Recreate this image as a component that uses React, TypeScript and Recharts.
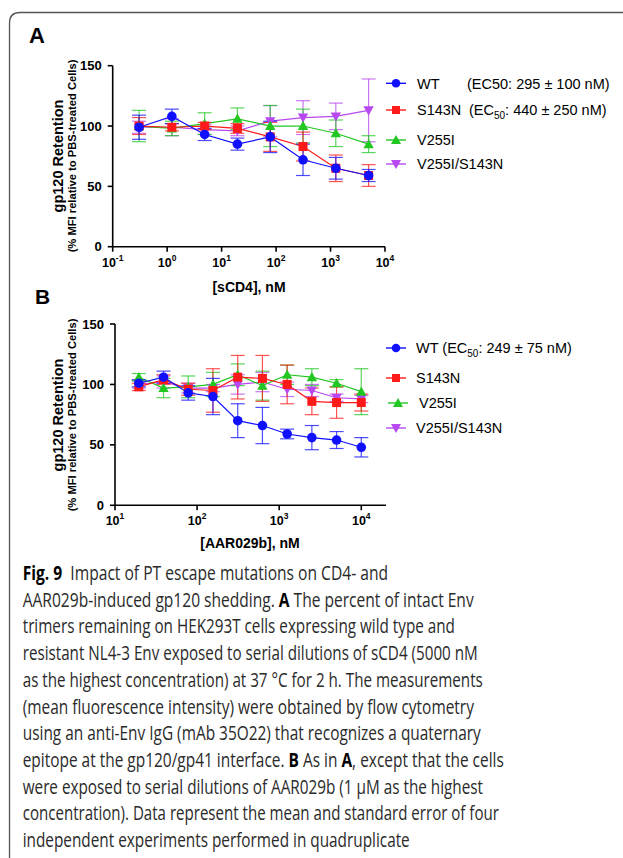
import React, { useLayoutEffect, useRef, useState } from 'react';
import { LineChart, Line, XAxis, YAxis, ErrorBar } from 'recharts';

// ---------- Panel A data (sCD4, nM) ----------
const concA = [0.305, 1.22, 4.88, 19.5, 78.1, 312.5, 1250, 5000];
const wtA = [99, 108, 93, 85, 91, 72, 65, 59];
const wtAErr = [10, 6, 5, 5, 13, 13, 9, 5];
const s143nA = [100, 99, 100, 98, 91, 83, 65, 59];
const s143nAErr = [7, 3, 3, 4, 12, 12, 11, 9];
const v255iA = [100, 98, 102, 106, 100, 100, 94, 85];
const v255iAErr = [13, 6, 9, 9, 17, 14, 11, 7];
const dblA = [99, 99, 97, 96, 104, 107, 108, 113];
const dblAErr = [5, 7, 4, 4, 13, 14, 11, 26];
const ticksA = [0.1, 1, 10, 100, 1000, 10000];

// ---------- Panel B data (AAR029b, nM) ----------
const concB = [19.5, 39, 78, 156, 312.5, 625, 1250, 2500, 5000, 10000];
const wtB = [101, 106, 93, 90, 70, 66, 59, 56, 54, 48];
const wtBErr = [3, 5, 6, 15, 14, 15, 4, 10, 7, 8];
const s143nB = [98, 104, 96, 95, 106, 105, 100, 86, 85, 85];
const s143nBErr = [3, 4, 5, 18, 18, 19, 16, 11, 13, 7];
const v255iB = [106, 97, 98, 100, 108, 99, 108, 106, 101, 94];
const v255iBErr = [3, 8, 9, 10, 9, 12, 8, 7, 3, 19];
const dblB = [100, 102, 97, 97, 100, 102, 96, 95, 89, 88];
const dblBErr = [3, 5, 4, 3, 8, 8, 6, 5, 3, 3];
const ticksB = [10, 100, 1000, 10000];

const yTicks = [0, 50, 100, 150];

const BLUE = '#1010ff';
const RED = '#ff1a1a';
const GREEN = '#22c722';
const PURPLE = '#b848f0';
const FONT = '"Liberation Sans", Arial, Helvetica, sans-serif';
const CAP_FONT = '"Open Sans", "Noto Sans", sans-serif';

const buildRows = (conc: number[], a: number[], ae: number[], b: number[], be: number[], c: number[], ce: number[], d: number[], de: number[]) =>
  conc.map((x, i) => ({ x, wt: a[i], wtE: ae[i], s: b[i], sE: be[i], v: c[i], vE: ce[i], d: d[i], dE: de[i] }));

const rowsA = buildRows(concA, wtA, wtAErr, s143nA, s143nAErr, v255iA, v255iAErr, dblA, dblAErr);
const rowsB = buildRows(concB, wtB, wtBErr, s143nB, s143nBErr, v255iB, v255iBErr, dblB, dblBErr);

const Circle = (p: any) => (p.cx == null ? null : <circle cx={p.cx} cy={p.cy} r={4.8} fill={BLUE} />);
const Square = (p: any) => (p.cx == null ? null : <rect x={p.cx - 4.5} y={p.cy - 4.5} width={9} height={9} fill={RED} />);
const TriUp = (p: any) =>
  p.cx == null ? null : <path d={`M${p.cx},${p.cy - 5.2} L${p.cx + 5.2},${p.cy + 4} L${p.cx - 5.2},${p.cy + 4} Z`} fill={GREEN} />;
const TriDown = (p: any) =>
  p.cx == null ? null : <path d={`M${p.cx},${p.cy + 5.2} L${p.cx + 5.2},${p.cy - 4} L${p.cx - 5.2},${p.cy - 4} Z`} fill={PURPLE} />;

const LogTick = (p: any) => {
  const e = Math.round(Math.log10(p.payload.value));
  return (
    <text x={p.x} y={p.y + 13} textAnchor="middle" fontFamily={FONT} fontWeight="bold" fontSize={12.5} fill="#000">
      <tspan>10</tspan>
      <tspan dy={-6} fontSize={8.5}>{e}</tspan>
    </text>
  );
};

const series = [
  { key: 'd', err: 'dE', color: PURPLE, dot: TriDown },
  { key: 'v', err: 'vE', color: GREEN, dot: TriUp },
  { key: 's', err: 'sE', color: RED, dot: Square },
  { key: 'wt', err: 'wtE', color: BLUE, dot: Circle },
];

const Panel = ({ rows, domain, ticks, margin, yWidth }: any) => (
  <LineChart width={400} height={300} data={rows} margin={margin}>
    <XAxis
      dataKey="x"
      type="number"
      scale="log"
      domain={domain}
      ticks={ticks}
      allowDataOverflow
      height={50}
      tick={<LogTick />}
      tickSize={5}
      axisLine={{ stroke: '#000', strokeWidth: 1.6 }}
      tickLine={{ stroke: '#000', strokeWidth: 1.6 }}
      interval={0}
    />
    <YAxis
      type="number"
      domain={[0, 150]}
      ticks={yTicks}
      width={yWidth}
      tickSize={5}
      tickMargin={6}
      tick={{ fontSize: 13, fontWeight: 'bold', fill: '#000', fontFamily: FONT }}
      axisLine={{ stroke: '#000', strokeWidth: 1.6 }}
      tickLine={{ stroke: '#000', strokeWidth: 1.6 }}
      interval={0}
    />
    {series.map((s) => (
      <Line
        key={s.key}
        dataKey={s.key}
        stroke={s.color}
        strokeWidth={1.2}
        dot={<s.dot />}
        activeDot={false}
        isAnimationActive={false}
      >
        <ErrorBar dataKey={s.err} width={7} stroke={s.color} strokeOpacity={0.75} strokeWidth={1.2} direction="y" />
      </Line>
    ))}
  </LineChart>
);

const captionLines: { parts: { t: string; b?: boolean }[]; w: number }[] = [
  { parts: [{ t: 'Fig. 9', b: true }, { t: '\u00a0 Impact of PT escape mutations on CD4- and' }], w: 365 },
  { parts: [{ t: 'AAR029b-induced gp120 shedding. ' }, { t: 'A', b: true }, { t: ' The percent of intact Env' }], w: 451 },
  { parts: [{ t: 'trimers remaining on HEK293T cells expressing wild type and' }], w: 432 },
  { parts: [{ t: 'resistant NL4-3 Env exposed to serial dilutions of sCD4 (5000 nM' }], w: 455 },
  { parts: [{ t: 'as the highest concentration) at 37 °C for 2 h. The measurements' }], w: 460 },
  { parts: [{ t: '(mean fluorescence intensity) were obtained by flow cytometry' }], w: 451 },
  { parts: [{ t: 'using an anti-Env IgG (mAb 35O22) that recognizes a quaternary' }], w: 458 },
  { parts: [{ t: 'epitope at the gp120/gp41 interface. ' }, { t: 'B', b: true }, { t: ' As in ' }, { t: 'A', b: true }, { t: ', except that the cells' }], w: 481 },
  { parts: [{ t: 'were exposed to serial dilutions of AAR029b (1 μM as the highest' }], w: 460 },
  { parts: [{ t: 'concentration). Data represent the mean and standard error of four' }], w: 476 },
  { parts: [{ t: 'independent experiments performed in quadruplicate' }], w: 387 },
];

const CaptionLine = ({ ln, x, y }: any) => {
  const ref = useRef<SVGTextElement>(null);
  const [sx, setSx] = useState(0.78);
  useLayoutEffect(() => {
    if (ref.current) {
      const natural = ref.current.getComputedTextLength();
      if (natural > 0) setSx(ln.w / natural);
    }
  }, [ln.w]);
  return (
    <g transform={`translate(${x},${y}) scale(${sx},1)`}>
      <text ref={ref} x={0} y={0} fontFamily={CAP_FONT} fontSize={19.5} fill="#2a2a2a">
        {ln.parts.map((p: any, j: number) => (
          <tspan key={j} fontWeight={p.b ? 'bold' : 'normal'} fill={p.b ? '#000' : '#2a2a2a'}>
            {p.t}
          </tspan>
        ))}
      </text>
    </g>
  );
};

const LegendSym = ({ x, y, color, kind }: any) => {
  const cx = x + 10;
  let m: any = null;
  if (kind === 'c') m = <circle cx={cx} cy={y} r={4.3} fill={color} />;
  if (kind === 's') m = <rect x={cx - 4} y={y - 4} width={8} height={8} fill={color} />;
  if (kind === 'u') m = <path d={`M${cx},${y - 5} L${cx + 5},${y + 4} L${cx - 5},${y + 4} Z`} fill={color} />;
  if (kind === 'd') m = <path d={`M${cx},${y + 5} L${cx + 5},${y - 4} L${cx - 5},${y - 4} Z`} fill={color} />;
  return (
    <g>
      <line x1={x} y1={y} x2={x + 20} y2={y} stroke={color} strokeWidth={1.4} />
      {m}
    </g>
  );
};

const T = ({ x, y, children, size = 14.5, bold = false, anchor = 'start', rot }: any) => (
  <text
    x={x}
    y={y}
    fontFamily={FONT}
    fontSize={size}
    fontWeight={bold ? 'bold' : 'normal'}
    fill="#000"
    textAnchor={anchor}
    transform={rot ? `rotate(-90 ${x} ${y})` : undefined}
  >
    {children}
  </text>
);

export default function App() {
  return (
    <div style={{ position: 'absolute', left: 0, top: 0, width: 623, height: 858, overflow: 'hidden', background: '#fff' }}>
      <div style={{ position: 'absolute', left: 0, top: 0 }}>
        <Panel rows={rowsA} domain={[0.1, 10000]} ticks={ticksA} margin={{ top: 65.7, right: 15, left: 0, bottom: 3.3 }} yWidth={112.7} />
      </div>
      <div style={{ position: 'absolute', left: 0, top: 270 }}>
        <Panel rows={rowsB} domain={[10, 20000]} ticks={ticksB} margin={{ top: 54, right: 14, left: 0, bottom: 14.7 }} yWidth={115} />
      </div>
      <svg width={623} height={858} style={{ position: 'absolute', left: 0, top: 0, pointerEvents: 'none' }}>
        <path d="M9.5,858 L9.5,23 Q9.5,12.5 20,12.5 L623,12.5" fill="none" stroke="#555" strokeWidth={1.3} />
        <T x={29} y={43} size={22} bold>A</T>
        <T x={35} y={303.5} size={21} bold>B</T>

        {/* Panel A axis titles */}
        <T x={62.5} y={156} size={14.5} bold anchor="middle" rot>gp120 Retention</T>
        <T x={76} y={156} size={11.2} bold anchor="middle" rot>(% MFI relative to PBS-treated Cells)</T>
        <T x={249} y={292} size={14} bold anchor="middle">[sCD4], nM</T>

        {/* Panel B axis titles */}
        <T x={62.5} y={415} size={14.5} bold anchor="middle" rot>gp120 Retention</T>
        <T x={76} y={415} size={11.2} bold anchor="middle" rot>(% MFI relative to PBS-treated Cells)</T>
        <T x={250} y={548} size={14} bold anchor="middle">[AAR029b], nM</T>

        {/* Legend A */}
        <LegendSym x={386} y={83.3} color={BLUE} kind="c" />
        <T x={417} y={88.5}>WT</T>
        <T x={467} y={88.5}>(EC50: 295 ± 100 nM)</T>
        <LegendSym x={386} y={110} color={RED} kind="s" />
        <T x={417} y={115}>S143N</T>
        <T x={469} y={115}>
          (EC<tspan dy={4} fontSize={10}>50</tspan><tspan dy={-4}>: 440 ± 250 nM)</tspan>
        </T>
        <LegendSym x={386} y={140} color={GREEN} kind="u" />
        <T x={417} y={145}>V255I</T>
        <LegendSym x={386} y={164} color={PURPLE} kind="d" />
        <T x={417} y={169}>V255I/S143N</T>

        {/* Legend B */}
        <LegendSym x={386} y={348} color={BLUE} kind="c" />
        <T x={416} y={353}>
          WT (EC<tspan dy={4} fontSize={10}>50</tspan><tspan dy={-4}>: 249 ± 75 nM)</tspan>
        </T>
        <LegendSym x={386} y={378} color={RED} kind="s" />
        <T x={416} y={383}>S143N</T>
        <LegendSym x={388} y={403} color={GREEN} kind="u" />
        <T x={419} y={408}>V255I</T>
        <LegendSym x={386} y={428} color={PURPLE} kind="d" />
        <T x={416} y={433}>V255I/S143N</T>

        {/* Caption */}
        {captionLines.map((ln, i) => (
          <CaptionLine key={i} ln={ln} x={22.7} y={580 + i * 26.7} />
        ))}
      </svg>
    </div>
  );
}
